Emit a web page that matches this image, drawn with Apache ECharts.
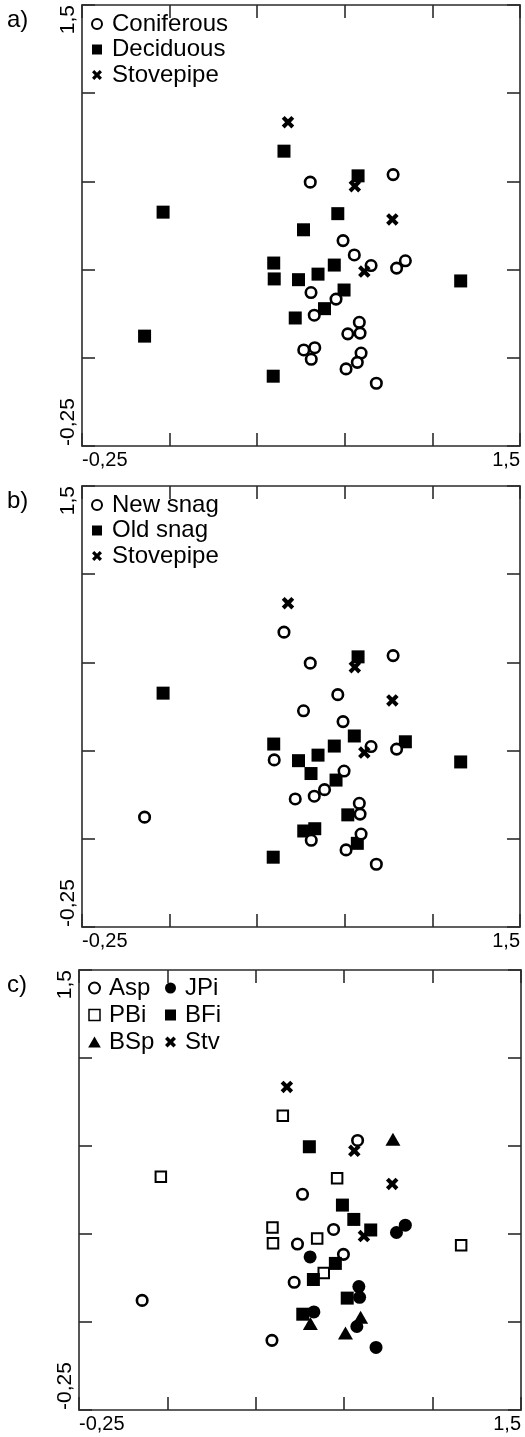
<!DOCTYPE html>
<html><head><meta charset="utf-8">
<script src="https://cdn.jsdelivr.net/npm/echarts/dist/echarts.min.js"></script>
<style>html,body{margin:0;padding:0;background:#fff}#c{width:525px;height:1437px}</style>
</head><body><div id="c"></div>
<script>
// ---- axis settings ----
const axisMin = -0.25, axisMax = 1.5, axisStep = 0.35;
const tickLabels = ['-0,25', '1,5'];
const panelLabels = ['a)', 'b)', 'c)'];

// ---- panel a ----
const coniferous = [[0.662,0.797],[0.993,0.827],[0.793,0.565],[0.838,0.508],[0.905,0.466],[1.007,0.456],[1.042,0.485],[0.665,0.359],[0.765,0.333],[0.678,0.269],[0.858,0.241],[0.861,0.198],[0.812,0.195],[0.636,0.131],[0.680,0.140],[0.666,0.094],[0.865,0.119],[0.850,0.082],[0.805,0.056],[0.926,-0.001]];
const deciduous = [[0.557,0.920],[0.853,0.822],[0.074,0.678],[0.772,0.672],[0.635,0.608],[0.516,0.476],[0.518,0.413],[0.615,0.410],[0.693,0.432],[0.758,0.468],[0.797,0.369],[0.719,0.295],[0.602,0.258],[0.000,0.186],[0.514,0.027],[1.263,0.405]];
const stovepipeA = [[0.573,1.035],[0.840,0.781],[0.990,0.649],[0.878,0.442]];

// ---- panel b ----
const newSnag = [[0.557,0.920],[0.772,0.672],[0.635,0.608],[0.518,0.413],[0.797,0.369],[0.719,0.295],[0.602,0.258],[0.000,0.186],[0.662,0.797],[0.993,0.827],[0.793,0.565],[0.905,0.466],[1.007,0.456],[0.678,0.269],[0.858,0.241],[0.861,0.198],[0.666,0.094],[0.865,0.119],[0.805,0.056],[0.926,-0.001]];
const oldSnag = [[0.853,0.822],[0.074,0.678],[0.516,0.476],[0.615,0.410],[0.693,0.432],[0.758,0.468],[0.514,0.027],[1.263,0.405],[0.838,0.508],[1.042,0.485],[0.665,0.359],[0.765,0.333],[0.812,0.195],[0.636,0.131],[0.680,0.140],[0.850,0.082]];
const stovepipeB = [[0.573,1.035],[0.840,0.781],[0.990,0.649],[0.878,0.442]];

// ---- panel c ----
const asp = [[0.853,0.822],[0.635,0.608],[0.615,0.410],[0.758,0.468],[0.797,0.369],[0.602,0.258],[0.000,0.186],[0.514,0.027]];
const pbi = [[0.557,0.920],[0.074,0.678],[0.772,0.672],[0.516,0.476],[0.518,0.413],[0.693,0.432],[0.719,0.295],[1.263,0.405]];
const bsp = [[0.993,0.827],[0.666,0.094],[0.865,0.119],[0.805,0.056]];
const jpi = [[1.007,0.456],[1.042,0.485],[0.665,0.359],[0.858,0.241],[0.861,0.198],[0.680,0.140],[0.850,0.082],[0.926,-0.001]];
const bfi = [[0.662,0.797],[0.793,0.565],[0.838,0.508],[0.905,0.466],[0.765,0.333],[0.678,0.269],[0.812,0.195],[0.636,0.131]];
const stv = [[0.573,1.035],[0.840,0.781],[0.990,0.649],[0.878,0.442]];

const FONT = '"Liberation Sans", Arial, Helvetica, sans-serif';
const crossPath = 'path://M0,2.3L2.3,0L5,2.7L7.7,0L10,2.3L7.3,5L10,7.7L7.7,10L5,7.3L2.3,10L0,7.7L2.7,5Z';
const squarePath = 'path://M0,0H10V10H0Z';
const triPath = 'path://M5,0L10.4,9.4L-0.4,9.4Z';

const styles = {
  openCircle: {symbol:'circle', symbolSize:10.5, itemStyle:{color:'#fff', borderColor:'#000', borderWidth:2.6, opacity:1}},
  filledSquare: {symbol:'rect', symbolSize:13, itemStyle:{color:'#000', opacity:1}},
  openSquare: {symbol:'rect', symbolSize:10.5, itemStyle:{color:'#fff', borderColor:'#000', borderWidth:2, opacity:1}},
  filledCircle: {symbol:'circle', symbolSize:13, itemStyle:{color:'#000', opacity:1}},
  triangle: {symbol:'triangle', symbolSize:[15,13], itemStyle:{color:'#000', opacity:1}},
  cross: {symbol:crossPath, symbolSize:12.5, itemStyle:{color:'#000', opacity:1}}
};
const legendIcons = {
  openCircle: {icon:'circle', itemStyle:{color:'#fff', borderColor:'#000', borderWidth:2, opacity:1}},
  filledSquare: {icon:squarePath, itemStyle:{color:'#000', borderWidth:0, opacity:1}},
  openSquare: {icon:squarePath, itemStyle:{color:'#fff', borderColor:'#000', borderWidth:1.5, opacity:1}},
  filledCircle: {icon:'circle', itemStyle:{color:'#000', borderWidth:0, opacity:1}},
  triangle: {icon:triPath, itemStyle:{color:'#000', borderWidth:0, opacity:1}},
  cross: {icon:crossPath, itemStyle:{color:'#000', borderWidth:0, opacity:1}}
};

const grids = [
  {left:82, top:5, width:438, height:441},
  {left:82, top:486, width:438, height:441},
  {left:79, top:970, width:442, height:440}
];

const near = (a, b) => Math.abs(a - b) < 1e-6;
const fmt = v => near(v, axisMin) ? tickLabels[0] : (near(v, axisMax) ? tickLabels[1] : '');
const lineColor = '#2b2b2b';

function mkAxis(gi, pos, labelled, rotate) {
  return {
    type:'value', gridIndex:gi, position:pos, min:axisMin, max:axisMax, interval:axisStep,
    axisLine:{show:true, onZero:false, lineStyle:{color:lineColor, width:1.6}},
    axisTick:{show:true, inside:true, length:13, lineStyle:{color:lineColor, width:1.6}},
    splitLine:{show:false},
    axisLabel: labelled ? {
      show:true, formatter:fmt, showMinLabel:true, showMaxLabel:true,
      rotate: rotate ? 90 : 0,
      alignMinLabel:'left', alignMaxLabel:'right',
      fontSize: rotate ? 21 : 20, color:'#000', fontFamily:FONT, margin: rotate ? 3 : 4
    } : {show:false}
  };
}

const xAxis = [], yAxis = [];
grids.forEach((g, i) => {
  xAxis.push(mkAxis(i, 'bottom', true, false));
  xAxis.push(mkAxis(i, 'top', false, false));
  yAxis.push(mkAxis(i, 'left', true, true));
  yAxis.push(mkAxis(i, 'right', false, false));
});

const panels = [
  [['Deciduous', deciduous, 'filledSquare'], ['Coniferous', coniferous, 'openCircle'], ['Stovepipe', stovepipeA, 'cross']],
  [['Old snag', oldSnag, 'filledSquare'], ['New snag', newSnag, 'openCircle'], ['Stovepipe ', stovepipeB, 'cross']],
  [['PBi', pbi, 'openSquare'], ['Asp', asp, 'openCircle'], ['BFi', bfi, 'filledSquare'], ['JPi', jpi, 'filledCircle'], ['BSp', bsp, 'triangle'], ['Stv', stv, 'cross']]
];

const series = [];
panels.forEach((p, i) => {
  p.forEach(([name, data, st]) => {
    series.push(Object.assign({
      type:'scatter', name, data, xAxisIndex:2*i, yAxisIndex:2*i, silent:true
    }, styles[st]));
  });
});

const legendText = {fontSize:24, color:'#000', fontFamily:FONT, lineHeight:24};
function legendItem(name, st) { return Object.assign({name}, legendIcons[st]); }
function mkLegend(left, top, items, opts) {
  return Object.assign({orient:'vertical', left, top, padding:0, itemGap:1.5, itemWidth:20, itemHeight:10,
    symbolKeepAspect:true, textStyle:legendText, selectedMode:false,
    data:items.map(([n, s]) => legendItem(n, s))}, opts || {});
}
const legend = [
  mkLegend(91, 12, [['Coniferous','openCircle'], ['Deciduous','filledSquare'], ['Stovepipe','cross']]),
  mkLegend(91, 493, [['New snag','openCircle'], ['Old snag','filledSquare'], ['Stovepipe ','cross']]),
  mkLegend(88, 976, [['Asp','openCircle'], ['PBi','openSquare'], ['BSp','triangle']], {itemGap:3, itemWidth:19, itemHeight:11}),
  mkLegend(165, 976, [['JPi','filledCircle'], ['BFi','filledSquare'], ['Stv','cross']], {itemGap:3, itemWidth:19, itemHeight:11})
];

const graphic = panelLabels.map((t, i) => ({
  type:'text', left:7, top:[8, 489, 973][i],
  style:{text:t, fill:'#000', font:'24px ' + FONT}
}));

const chart = echarts.init(document.getElementById('c'), null, {renderer:'canvas'});
chart.setOption({
  animation:false, backgroundColor:'#fff',
  grid:grids, xAxis, yAxis, series, legend, graphic
});
</script></body></html>
